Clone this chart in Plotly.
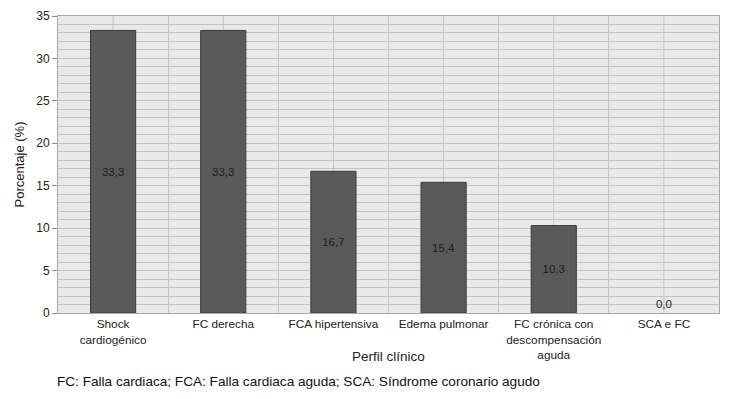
import plotly.graph_objects as go

categories = ["Shock<br>cardiogénico", "FC derecha", "FCA hipertensiva", "Edema pulmonar",
              "FC crónica con<br>descompensación<br>aguda", "SCA e FC"]
values = [33.3, 33.3, 16.7, 15.4, 10.3, 0.0]
labels = [f"{v:.1f}".replace(".", ",") for v in values]
y_ticks = [0, 5, 10, 15, 20, 25, 30, 35]
x_title = "Perfil clínico"
y_title = "Porcentaje (%)"
footnote = "FC: Falla cardiaca; FCA: Falla cardiaca aguda; SCA: Síndrome coronario agudo"

FONT = "Liberation Sans, Arial, sans-serif"
GRID = "#c4c4c4"

fig = go.Figure()
fig.add_trace(go.Bar(
    x=categories, y=values,
    width=0.41,
    marker=dict(color="#5a5a5a",
                line=dict(color="#3a3a3a", width=[1 if v > 0 else 0 for v in values])),
    text=labels,
    textposition=["inside" if v > 0 else "outside" for v in values],
    insidetextanchor="middle",
    textangle=0,
    constraintext="none",
    cliponaxis=False,
    textfont=dict(family=FONT, size=11.5, color="#1e1e1e"),
    outsidetextfont=dict(family=FONT, size=11.5, color="#1e1e1e"),
))

# center grid lines for each category
for c in categories:
    fig.add_shape(type="line", xref="x", yref="paper", x0=c, x1=c, y0=0, y1=1,
                  line=dict(color=GRID, width=1), layer="below")

# page body has an 8px default margin, so margins are offset accordingly
fig.update_layout(
    width=737, height=399,
    margin=dict(l=50, r=26, t=8, b=94),
    paper_bgcolor="white",
    plot_bgcolor="#e9e9e9",
    showlegend=False,
    font=dict(family=FONT, color="#222222"),
    xaxis=dict(
        type="category",
        tickson="boundaries",
        automargin=False,
        showgrid=True, gridcolor=GRID, gridwidth=1,
        ticks="", tickfont=dict(size=11.8, color="#222222"),
        showline=True, linecolor="#a8a8a8", mirror=True,
    ),
    yaxis=dict(
        range=[0, 35],
        automargin=False,
        tickvals=y_ticks,
        showgrid=True, gridcolor=GRID, gridwidth=1,
        minor=dict(dtick=1, showgrid=True, gridcolor=GRID, gridwidth=1),
        ticks="outside", ticklen=5, tickcolor="#888888",
        tickfont=dict(size=12, color="#222222"),
        showline=True, linecolor="#a8a8a8", mirror=True,
        zeroline=False,
    ),
    annotations=[
        dict(text=x_title, xref="paper", yref="paper", x=0.5, y=-0.148,
             xanchor="center", yanchor="middle", showarrow=False,
             font=dict(family=FONT, size=13.5, color="#222222")),
        dict(text=y_title, xref="paper", yref="paper", x=-0.0575, y=0.5, textangle=-90,
             xanchor="center", yanchor="middle", showarrow=False,
             font=dict(family=FONT, size=13, color="#222222")),
        dict(text=footnote, xref="paper", yref="paper", x=-0.005, y=-0.232,
             xanchor="left", yanchor="middle", showarrow=False,
             font=dict(family=FONT, size=13.6, color="#111111")),
    ],
)

fig.write_html("out.html")
